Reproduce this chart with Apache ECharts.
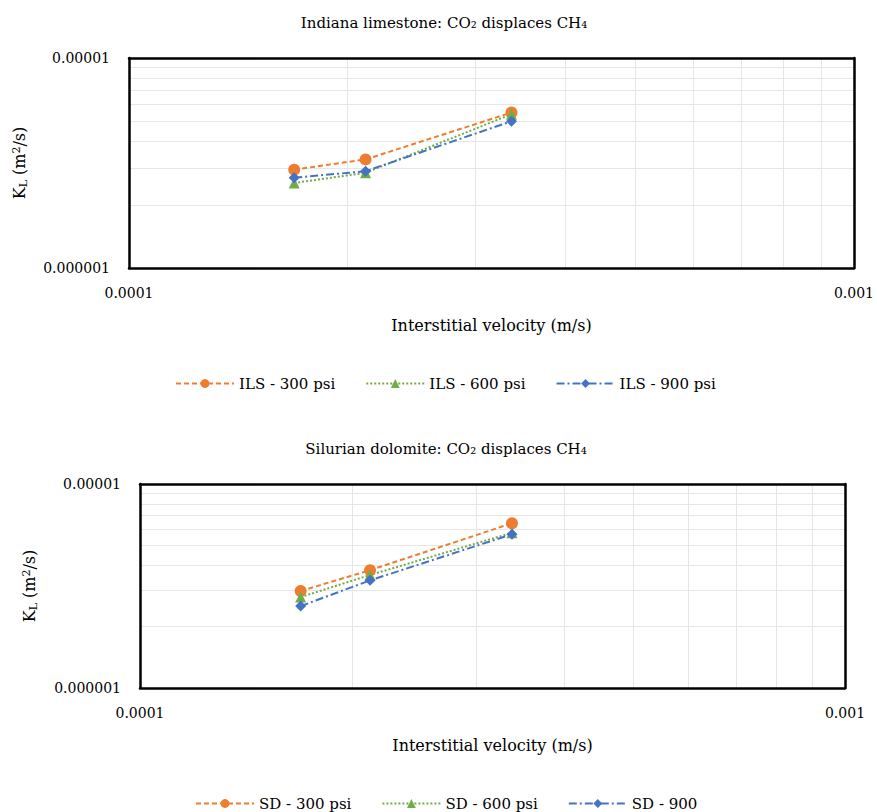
<!DOCTYPE html>
<html>
<head>
<meta charset="utf-8">
<script src="https://cdn.jsdelivr.net/npm/echarts@6/dist/echarts.min.js"></script>
<style>
  html, body { margin: 0; padding: 0; background: #fff; }
  #chart { width: 877px; height: 812px; }
</style>
</head>
<body>
<div id="chart"></div>
<script>
// interstitial velocity (m/s), same three rates for both rocks
var velocity = [1.69e-4, 2.12e-4, 3.37e-4];

// Indiana limestone, K_L (m2/s)
var ils300 = [2.94e-6, 3.29e-6, 5.50e-6];
var ils600 = [2.54e-6, 2.84e-6, 5.40e-6];
var ils900 = [2.69e-6, 2.89e-6, 5.00e-6];

// Silurian dolomite, K_L (m2/s)
var sd300 = [2.99e-6, 3.78e-6, 6.42e-6];
var sd600 = [2.79e-6, 3.58e-6, 5.77e-6];
var sd900 = [2.52e-6, 3.37e-6, 5.67e-6];

var xTickLabels = ['0.0001', '0.001'];
var yTickLabels = ['0.000001', '0.00001'];

var titles = ['Indiana limestone: CO₂ displaces CH₄', 'Silurian dolomite: CO₂ displaces CH₄'];
var ilsNames = ['ILS - 300 psi', 'ILS - 600 psi', 'ILS - 900 psi'];
var sdNames = ['SD - 300 psi', 'SD - 600 psi', 'SD - 900'];

(function() {
  var font = 'DejaVu Serif';
  var ink = '#000';
  var grey = '#e6e6e6';
  var orange = '#ED7D31', green = '#70AD47', blue = '#4472C4';

  function pairs(ys) {
    return velocity.map(function(v, i) { return [v, ys[i]]; });
  }

  var kName = '{a|K}{s|L}{a| (m}{p|2}{a|/s)}';
  var kRich = {
    a: { fontFamily: font, fontSize: 16, color: ink },
    s: { fontFamily: font, fontSize: 11, color: ink, padding: [8, 0, 0, 0] },
    p: { fontFamily: font, fontSize: 11, color: ink, padding: [0, 0, 7, 0] }
  };

  var gridLine = { show: true, showMinLine: false, showMaxLine: false, lineStyle: { color: grey, width: 1 } };
  var border = { show: true, onZero: false, lineStyle: { color: ink, width: 2.5 } };

  function xAxis(gi) {
    return {
      type: 'log', gridIndex: gi, min: 1e-4, max: 1e-3, logBase: 10,
      name: 'Interstitial velocity (m/s)', nameLocation: 'middle', nameGap: 49,
      nameTextStyle: { fontFamily: font, fontSize: 16, color: ink },
      axisLine: border, axisTick: { show: false },
      axisLabel: {
        fontFamily: font, fontSize: 14, color: ink, margin: 18,
        formatter: function(v, i) { return xTickLabels[i]; }
      },
      splitLine: gridLine,
      minorTick: { show: false, splitNumber: 9 },
      minorSplitLine: { show: true, lineStyle: { color: grey, width: 1 } }
    };
  }

  function yAxis(gi, gap) {
    return {
      type: 'log', gridIndex: gi, min: 1e-6, max: 1e-5, logBase: 10,
      name: kName, nameLocation: 'middle', nameGap: gap, nameRotate: 90,
      nameTextStyle: { rich: kRich },
      axisLine: border, axisTick: { show: false },
      axisLabel: {
        fontFamily: font, fontSize: 14, color: ink, margin: 19,
        formatter: function(v, i) { return yTickLabels[i]; }
      },
      splitLine: gridLine,
      minorTick: { show: false, splitNumber: 9 },
      minorSplitLine: { show: true, lineStyle: { color: grey, width: 1 } }
    };
  }

  // top / right frame edges
  function frameX(gi) {
    return { type: 'log', gridIndex: gi, min: 1e-4, max: 1e-3, position: 'top',
      axisLine: border, axisTick: { show: false }, axisLabel: { show: false }, splitLine: { show: false } };
  }
  function frameY(gi) {
    return { type: 'log', gridIndex: gi, min: 1e-6, max: 1e-5, position: 'right',
      axisLine: border, axisTick: { show: false }, axisLabel: { show: false }, splitLine: { show: false } };
  }

  function line(name, ys, gi, color, symbol, dash) {
    return {
      name: name, type: 'line', xAxisIndex: gi, yAxisIndex: gi,
      data: pairs(ys),
      symbol: symbol, symbolSize: symbol === 'circle' ? 12 : 11,
      itemStyle: { color: color },
      lineStyle: { color: color, width: 2, type: dash },
      z: 3
    };
  }

  var chart = echarts.init(document.getElementById('chart'), null, { renderer: 'svg' });
  chart.setOption({
    animation: false,
    textStyle: { fontFamily: font },
    title: [
      { text: titles[0], left: 439, top: 10, textAlign: 'center',
        textStyle: { fontFamily: font, fontSize: 15, fontWeight: 'normal', color: ink } },
      { text: titles[1], left: 441, top: 436, textAlign: 'center',
        textStyle: { fontFamily: font, fontSize: 15, fontWeight: 'normal', color: ink } }
    ],
    grid: [
      { left: 129, top: 58, width: 726, height: 210, containLabel: false },
      { left: 140, top: 484, width: 705, height: 204, containLabel: false }
    ],
    xAxis: [xAxis(0), xAxis(1), frameX(0), frameX(1)],
    yAxis: [yAxis(0, 100), yAxis(1, 101), frameY(0), frameY(1)],
    legend: [
      { data: ilsNames, left: 170, top: 371, itemWidth: 58, itemHeight: 11, itemGap: 30,
        textStyle: { fontFamily: font, fontSize: 15, color: ink } },
      { data: sdNames, left: 190, top: 791, itemWidth: 58, itemHeight: 11, itemGap: 30,
        textStyle: { fontFamily: font, fontSize: 15, color: ink } }
    ],
    series: [
      line(ilsNames[0], ils300, 0, orange, 'circle', [5, 3]),
      line(ilsNames[1], ils600, 0, green, 'triangle', [2, 2]),
      line(ilsNames[2], ils900, 0, blue, 'diamond', [8, 3, 2, 3]),
      line(sdNames[0], sd300, 1, orange, 'circle', [5, 3]),
      line(sdNames[1], sd600, 1, green, 'triangle', [2, 2]),
      line(sdNames[2], sd900, 1, blue, 'diamond', [8, 3, 2, 3])
    ]
  });
})();
</script>
</body>
</html>
